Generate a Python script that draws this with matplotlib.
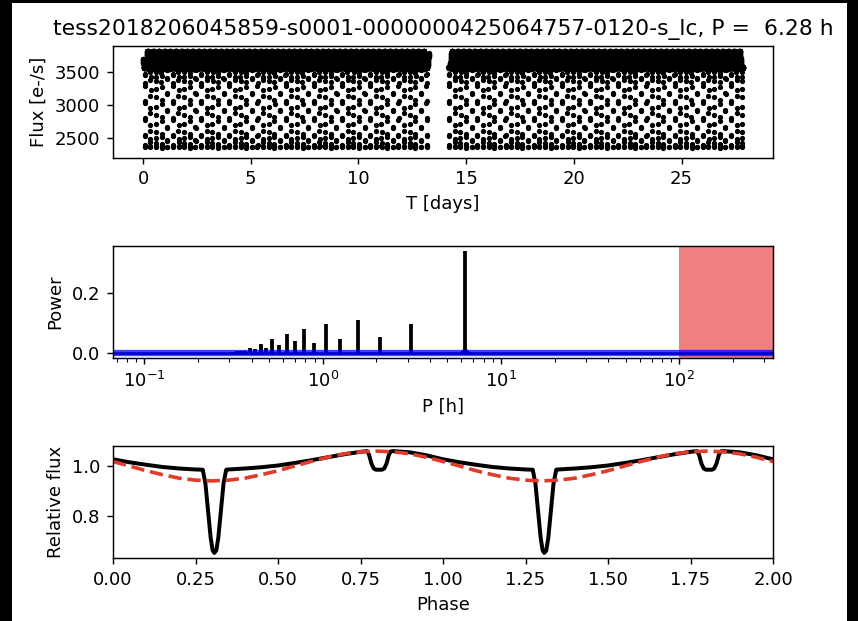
import numpy as np
import matplotlib
matplotlib.use('Agg')
import matplotlib.pyplot as plt
from matplotlib.patches import Rectangle

# Title info
title = 'tess2018206045859-s0001-0000000425064757-0120-s_lc, P =  6.28 h'
period_h = 6.28

# Folded light curve (black), one cycle
fold_phase = [0.00, 0.05, 0.10, 0.15, 0.20, 0.25, 0.272, 0.280, 0.288, 0.296,
              0.302, 0.307, 0.313, 0.319, 0.327, 0.335, 0.343, 0.35, 0.40, 0.45,
              0.50, 0.55, 0.60, 0.65, 0.70, 0.75, 0.770, 0.776, 0.783, 0.790,
              0.797, 0.815, 0.822, 0.829, 0.836, 0.842, 0.85, 0.90, 0.95, 1.00]
fold_flux = [1.027, 1.015, 1.005, 0.996, 0.990, 0.986, 0.985, 0.93, 0.82, 0.71,
             0.66, 0.65, 0.66, 0.71, 0.82, 0.93, 0.985, 0.986, 0.990, 0.995,
             1.002, 1.012, 1.023, 1.035, 1.047, 1.057, 1.060, 1.045, 1.01, 0.99,
             0.985, 0.985, 0.99, 1.01, 1.045, 1.059, 1.060, 1.055, 1.043, 1.027]

# Model (red dashed), one cycle
model_phase = [0.00, 0.05, 0.10, 0.15, 0.20, 0.25, 0.30, 0.35, 0.40, 0.45, 0.50,
               0.55, 0.60, 0.65, 0.70, 0.75, 0.80, 0.85, 0.90, 0.95, 1.00]
model_flux = [1.018, 1.000, 0.981, 0.965, 0.951, 0.943, 0.940, 0.943, 0.951, 0.965, 0.981,
              1.000, 1.018, 1.035, 1.049, 1.057, 1.060, 1.057, 1.049, 1.035, 1.018]

# Observation segments [days] and mean flux [e-/s] for the raw light curve
seg_start = [0.0, 14.18]
seg_end = [13.27, 27.85]
cadence_days = 2.0 / 60 / 24
mean_flux = 3613.0

# Periodogram peaks (P [h], power)
peak_period = [6.28, 3.14, 2.093, 1.57, 1.256, 1.047, 0.897, 0.785, 0.698, 0.628,
               0.571, 0.523, 0.483, 0.449, 0.419, 0.393, 0.369, 0.349, 0.331, 0.314]
peak_power = [0.340, 0.095, 0.053, 0.110, 0.047, 0.097, 0.033, 0.080, 0.040, 0.062,
              0.025, 0.045, 0.017, 0.030, 0.012, 0.016, 0.008, 0.007, 0.005, 0.004]
base_period = [5.95, 6.28, 6.65]
base_power = [0.0, 0.014, 0.0]
p_min, p_max = 0.0667, 335.0
search_limit = 100.0

# raw light curve: the fold laid back out on the 2-min cadence
t = np.concatenate([np.arange(a, b, cadence_days) for a, b in zip(seg_start, seg_end)])
ph = (t / (period_h / 24.0)) % 1.0
flux = mean_flux * np.interp(ph, fold_phase, fold_flux)

W, H = 858, 621
fig = plt.figure(figsize=(W / 130, H / 130), dpi=130, facecolor='black')
fig.add_artist(Rectangle((12 / W, 0), 835 / W, 618 / H, transform=fig.transFigure,
                         facecolor='white', edgecolor='none', zorder=-5))

left, width, height = 113 / W, 660 / W, 112 / H
ax1 = fig.add_axes([left, 1 - 157.5 / H, width, height])
ax2 = fig.add_axes([left, 1 - 358 / H, width, height])
ax3 = fig.add_axes([left, 1 - 558 / H, width, height])

# top: raw light curve
ax1.plot(t, flux, 'k.', ms=3.8)
ax1.set_ylim(2200, 3910)
ax1.set_xlabel('T [days]')
ax1.set_ylabel('Flux [e-/s]')
ax1.set_title(title, fontsize=12.1)

# middle: periodogram
ax2.vlines(peak_period, 0, peak_power, color='k', lw=2.1)
ax2.fill(base_period, base_power, color='k')
ax2.axvspan(search_limit, p_max, color='lightcoral', lw=0)
ax2.axhline(0.0, color='k', lw=1.4)
ax2.axhline(0.0, color='blue', lw=3.5, alpha=0.75)
ax2.set_xscale('log')
ax2.set_xlim(p_min, p_max)
ax2.set_ylim(-0.017, 0.357)
ax2.set_xlabel('P [h]')
ax2.set_ylabel('Power')

# bottom: folded light curve, shown twice
fp = np.array(fold_phase)
mp = np.array(model_phase)
ax3.plot(np.concatenate([fp, fp + 1]), fold_flux + fold_flux, color='k', lw=2.2)
ax3.plot(np.concatenate([mp, mp + 1]), model_flux + model_flux, '--', color='#e03b2b', lw=2)
ax3.set_xlim(0, 2)
ax3.set_xticks(np.arange(0, 2.01, 0.25))
ax3.set_xlabel('Phase')
ax3.set_ylabel('Relative flux')

fig.savefig('out.png', dpi=130, facecolor='black')
